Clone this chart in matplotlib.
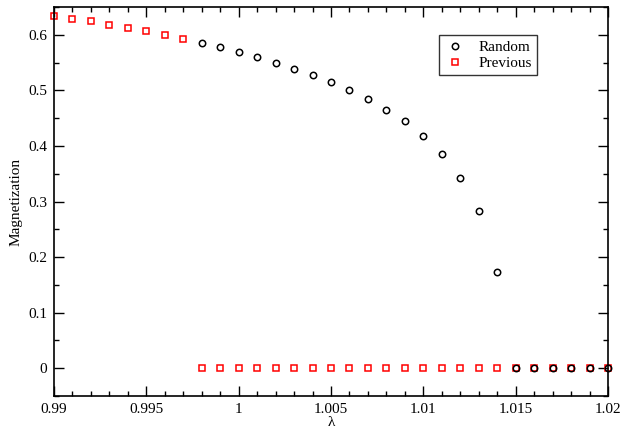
import matplotlib.pyplot as plt
from matplotlib.ticker import MultipleLocator

plt.rcParams['font.family'] = ['Liberation Serif', 'DejaVu Serif']

# Random initial condition: ordered branch then zero
lam_random = [0.998, 0.999, 1.000, 1.001, 1.002, 1.003, 1.004, 1.005, 1.006,
              1.007, 1.008, 1.009, 1.010, 1.011, 1.012, 1.013, 1.014,
              1.015, 1.016, 1.017, 1.018, 1.019, 1.020]
mag_random = [0.585, 0.578, 0.569, 0.560, 0.550, 0.539, 0.528, 0.515, 0.500,
              0.484, 0.465, 0.444, 0.417, 0.385, 0.343, 0.283, 0.174,
              0.0, 0.0, 0.0, 0.0, 0.0, 0.0]

# Previous-solution initial condition
lam_prev = [0.990, 0.991, 0.992, 0.993, 0.994, 0.995, 0.996, 0.997,
            0.998, 0.999, 1.000, 1.001, 1.002, 1.003, 1.004, 1.005, 1.006,
            1.007, 1.008, 1.009, 1.010, 1.011, 1.012, 1.013, 1.014,
            1.015, 1.016, 1.017, 1.018, 1.019, 1.020]
mag_prev = [0.634, 0.629, 0.624, 0.618, 0.613, 0.606, 0.600, 0.593,
            0.0, 0.0, 0.0, 0.0, 0.0, 0.0, 0.0, 0.0, 0.0,
            0.0, 0.0, 0.0, 0.0, 0.0, 0.0, 0.0, 0.0,
            0.0, 0.0, 0.0, 0.0, 0.0, 0.0]

fig = plt.figure(figsize=(6.22, 4.30), dpi=100)
ax = fig.add_axes([54 / 622, 1 - 396 / 430, (608 - 54) / 622, (396 - 7) / 430])

ax.plot(lam_random, mag_random, linestyle='none', marker='o', markersize=4.6,
        markerfacecolor='none', markeredgecolor='black', markeredgewidth=1.1,
        label='Random', clip_on=False, zorder=3)
ax.plot(lam_prev, mag_prev, linestyle='none', marker='s', markersize=4.4,
        markerfacecolor='none', markeredgecolor='red', markeredgewidth=1.1,
        label='Previous', clip_on=False, zorder=2)

ax.set_xlim(0.99, 1.02)
ax.set_ylim(-0.05, 0.65)
ax.xaxis.set_major_locator(MultipleLocator(0.005))
ax.xaxis.set_minor_locator(MultipleLocator(0.001))
ax.yaxis.set_major_locator(MultipleLocator(0.1))
ax.yaxis.set_minor_locator(MultipleLocator(0.05))
ax.set_xticks([0.99, 0.995, 1.0, 1.005, 1.01, 1.015, 1.02])
ax.set_xticklabels(['0.99', '0.995', '1', '1.005', '1.01', '1.015', '1.02'])
ax.set_yticks([0, 0.1, 0.2, 0.3, 0.4, 0.5, 0.6])
ax.set_yticklabels(['0', '0.1', '0.2', '0.3', '0.4', '0.5', '0.6'])
ax.tick_params(which='both', direction='in', top=True, right=True,
               labelsize=11, width=1.0)
ax.tick_params(which='major', length=7.2, pad=5)
ax.tick_params(which='minor', length=3.6)
for s in ax.spines.values():
    s.set_linewidth(1.2)

ax.set_xlabel('λ', fontsize=11, labelpad=0)
ax.set_ylabel('Magnetization', fontsize=11, labelpad=4)

leg = ax.legend(loc='upper right', bbox_to_anchor=(0.872, 0.927), fontsize=11,
                frameon=True, fancybox=False, edgecolor='black',
                handletextpad=0.9, borderpad=0.35, labelspacing=0.12,
                handlelength=1.3, borderaxespad=0)
leg.get_frame().set_linewidth(1.0)

fig.savefig('out.png', dpi=100)
